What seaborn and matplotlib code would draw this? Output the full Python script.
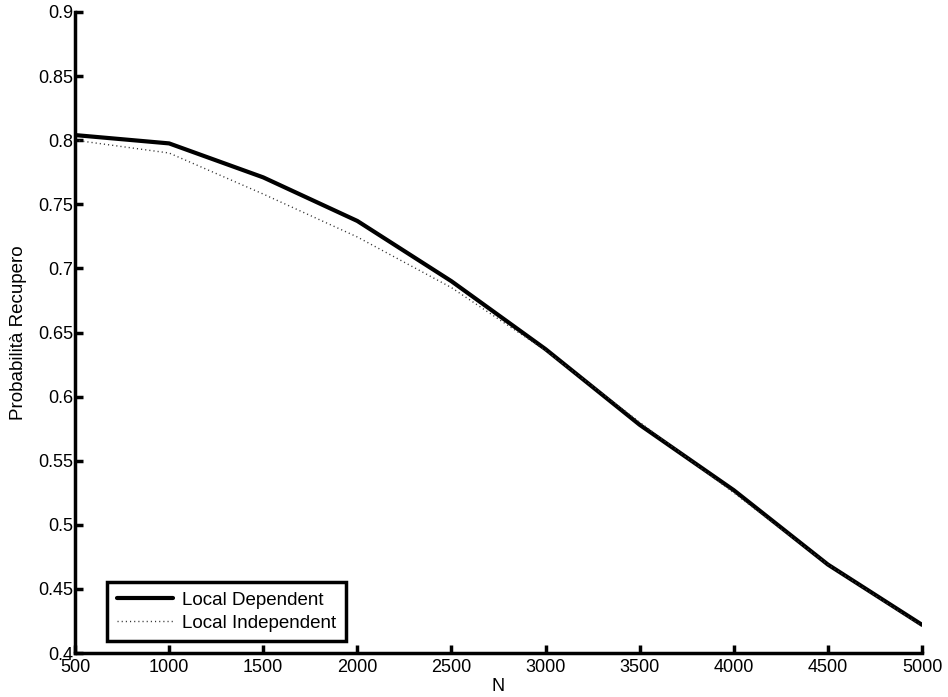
import matplotlib
matplotlib.use("Agg")
import matplotlib.pyplot as plt
import seaborn as sns
import pandas as pd

N = [500, 1000, 1500, 2000, 2500, 3000, 3500, 4000, 4500, 5000]
local_dependent = [0.804, 0.7975, 0.771, 0.737, 0.690, 0.637, 0.578, 0.527, 0.469, 0.422]
local_independent = [0.800, 0.790, 0.758, 0.7245, 0.685, 0.636, 0.580, 0.525, 0.469, 0.421]
xticks = [500, 1000, 1500, 2000, 2500, 3000, 3500, 4000, 4500, 5000]
yticks = [0.4, 0.45, 0.5, 0.55, 0.6, 0.65, 0.7, 0.75, 0.8, 0.85, 0.9]

sns.set_style("ticks")
plt.rcParams['font.family'] = ['Liberation Sans', 'DejaVu Sans']
plt.rcParams['xtick.direction'] = 'in'
plt.rcParams['ytick.direction'] = 'in'
plt.rcParams['text.color'] = 'black'
plt.rcParams['axes.labelcolor'] = 'black'

fig = plt.figure(figsize=(9.48, 6.97), dpi=100)
ax = fig.add_axes([0.0791, 0.0631, 0.8935, 0.9197])

df = pd.DataFrame({"N": N, "dep": local_dependent, "ind": local_independent})
sns.lineplot(data=df, x="N", y="dep", ax=ax, color="black", linewidth=3, label="Local Dependent")
sns.lineplot(data=df, x="N", y="ind", ax=ax, color="#333333", linewidth=1.0, linestyle=(0, (0.8, 2.2)), label="Local Independent")

ax.set_xlim(500, 5000)
ax.set_ylim(0.4, 0.9)
ax.set_xticks(xticks)
ax.set_xticklabels([str(v) for v in xticks])
ax.set_yticks(yticks)
ax.set_yticklabels([f"{v:g}" for v in yticks])
ax.tick_params(axis='both', labelsize=13, width=2.5, length=6, colors='black', labelcolor='black')
ax.tick_params(axis='y', pad=1.5)
ax.tick_params(axis='x', pad=4)
for s in ['top', 'right']:
    ax.spines[s].set_visible(False)
for s in ['left', 'bottom']:
    ax.spines[s].set_linewidth(2.5)
    ax.spines[s].set_color('black')

ax.set_xlabel("N", fontsize=13, labelpad=2)
ax.set_ylabel("Probabilità Recupero", fontsize=13.5, labelpad=8)

leg = ax.legend(loc='lower left', bbox_to_anchor=(0.027, 0.004), fontsize=13.5, frameon=True,
                fancybox=False, handlelength=3.0, borderpad=0.5, labelspacing=0.3, handletextpad=0.5)
leg.get_frame().set_edgecolor('black')
leg.get_frame().set_linewidth(2.5)
leg.get_frame().set_alpha(1)

fig.savefig("out.png", dpi=100)
